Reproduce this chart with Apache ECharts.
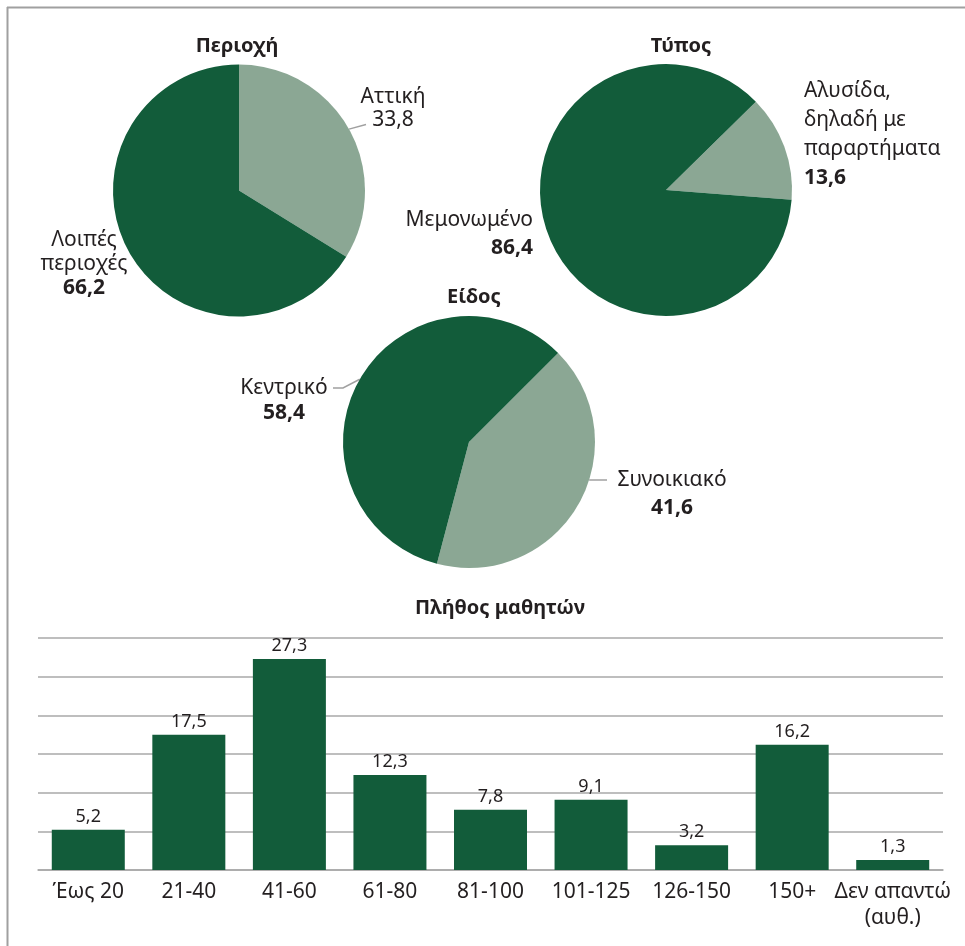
<!DOCTYPE html>
<html>
<head>
<meta charset="utf-8">
<script src="https://cdn.jsdelivr.net/npm/echarts@6/dist/echarts.min.js"></script>
<style>
html,body{margin:0;padding:0;background:#fff;}
#main{width:965px;height:946px;}
</style>
</head>
<body>
<div id="main"></div>
<script>
// ---- Data ----
const regionNames = ['Αττική', 'Λοιπές\nπεριοχές'];
const regionValues = [33.8, 66.2];
const typeNames = ['Αλυσίδα,\nδηλαδή με\nπαραρτήματα', 'Μεμονωμένο'];
const typeValues = [13.6, 86.4];
const kindNames = ['Συνοικιακό', 'Κεντρικό'];
const kindValues = [41.6, 58.4];
const studentCategories = ['Έως 20', '21-40', '41-60', '61-80', '81-100', '101-125', '126-150', '150+', 'Δεν απαντώ\n(αυθ.)'];
const studentValues = [5.2, 17.5, 27.3, 12.3, 7.8, 9.1, 3.2, 16.2, 1.3];
const titles = ['Περιοχή', 'Τύπος', 'Είδος', 'Πλήθος μαθητών'];

// ---- Styles ----
const DARK = '#125c3a';
const LIGHT = '#8ba794';
const TXT = '#231f20';
const GRID = '#a8a8a8';
const FONT = '"Noto Sans", "DejaVu Sans", sans-serif';
const R = 126;
const fmt = v => v.toFixed(1).replace('.', ',');

function pieSeries(names, values, center, startAngle, labelCfg, boldValue) {
  return {
    type: 'pie',
    center: center,
    radius: R,
    startAngle: startAngle,
    clockwise: true,
    silent: true,
    animation: false,
    itemStyle: { borderWidth: 0 },
    data: names.map((n, i) => ({
      name: n,
      value: values[i],
      itemStyle: { color: i === 0 ? LIGHT : DARK },
      labelLine: {
        show: !!labelCfg[i].guide,
        length: 8,
        length2: 8,
        lineStyle: { color: '#a0a0a0', width: 1.5 }
      },
      label: {
        show: true,
        position: 'outside',
        formatter: p => '{n|' + p.name + '}\n{' + (boldValue[i] ? 'b' : 'n') + '|' + fmt(p.value) + '}',
        rich: {
          n: { fontFamily: FONT, fontSize: 21, color: TXT, lineHeight: labelCfg[i].lh },
          b: { fontFamily: FONT, fontSize: 21, fontWeight: 'bold', color: TXT, lineHeight: labelCfg[i].lh }
        }
      }
    })),
    labelLayout: function (params) {
      const c = labelCfg[params.dataIndex];
      const out = { x: c.x, y: c.y, align: c.align, verticalAlign: 'middle' };
      if (c.guide) {
        let start;
        if (c.guide.fromEdgeAtY != null) {
          const y = c.guide.fromEdgeAtY;
          const dy = y - center[1];
          start = [center[0] + c.guide.side * Math.sqrt(R * R - dy * dy), y];
        } else {
          start = params.labelLinePoints ? params.labelLinePoints[0] : null;
        }
        if (start) out.labelLinePoints = [start].concat(c.guide.pts);
      }
      return out;
    }
  };
}

const chart = echarts.init(document.getElementById('main'), null, { renderer: 'canvas' });

const titlePos = [[232, 45], [676, 45], [469, 296], [495, 607]];

const option = {
  backgroundColor: '#fff',
  animation: false,
  textStyle: { fontFamily: FONT },
  title: titles.map((t, i) => ({
    text: t, left: titlePos[i][0], top: titlePos[i][1] - 14, textAlign: 'center',
    textStyle: { fontFamily: FONT, fontSize: 20, fontWeight: 'bold', color: TXT }
  })),
  graphic: [
    { type: 'line', shape: { x1: 7.5, y1: 7, x2: 7.5, y2: 946 }, style: { stroke: '#a0a0a0', lineWidth: 2 } },
    { type: 'line', shape: { x1: 7, y1: 7.5, x2: 965, y2: 7.5 }, style: { stroke: '#a0a0a0', lineWidth: 2 } }
  ],
  grid: { left: 38, right: 22, top: 638, bottom: 76, containLabel: false },
  xAxis: {
    type: 'category',
    data: studentCategories,
    axisLine: { show: true, lineStyle: { color: GRID, width: 1.5 } },
    axisTick: { show: false },
    axisLabel: { interval: 0, margin: 9, fontFamily: FONT, fontSize: 21, color: TXT, lineHeight: 26 }
  },
  yAxis: {
    type: 'value',
    min: 0, max: 30, interval: 5,
    axisLabel: { show: false },
    axisLine: { show: false },
    axisTick: { show: false },
    splitLine: { show: true, lineStyle: { color: GRID, width: 1.5 } }
  },
  series: [
    {
      type: 'bar',
      data: studentValues,
      barWidth: 73,
      silent: true,
      itemStyle: { color: DARK },
      label: {
        show: true, position: 'top', distance: 4,
        formatter: p => fmt(p.value),
        fontFamily: FONT, fontSize: 18, color: TXT
      }
    },
    pieSeries(regionNames, regionValues, [239, 190.5], 90, [
      { x: 393, y: 108.5, align: 'center', lh: 23, guide: { pts: [[366, 124.5]] } },
      { x: 84, y: 264, align: 'center', lh: 24 }
    ], [false, true]),
    pieSeries(typeNames, typeValues, [666, 190], 44.5, [
      { x: 804, y: 135, align: 'left', lh: 29 },
      { x: 533, y: 234, align: 'right', lh: 28 }
    ], [true, true]),
    pieSeries(kindNames, kindValues, [469, 442], 45, [
      { x: 672, y: 494, align: 'center', lh: 28, guide: { fromEdgeAtY: 480, side: 1, pts: [[607, 480]] } },
      { x: 284, y: 400.5, align: 'center', lh: 25, guide: { pts: [[343, 388], [333, 388]] } }
    ], [true, true])
  ]
};
chart.setOption(option);
</script>
</body>
</html>
